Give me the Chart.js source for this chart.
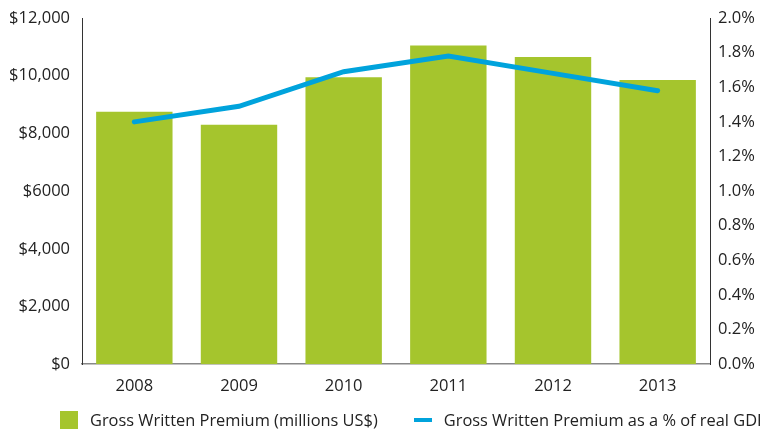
<!DOCTYPE html>
<html>
<head>
<meta charset="utf-8">
<script src="https://cdn.jsdelivr.net/npm/chart.js@4"></script>
<style>
  html, body { margin: 0; padding: 0; background: #fff; }
  #wrap { position: relative; width: 760px; height: 430px; overflow: hidden; }
  #legend { position: absolute; left: 60px; top: 408px; display: flex; white-space: nowrap;
    font-family: "Open Sans", sans-serif; font-size: 16.4px; color: #222; align-items: center; }
  .box { width: 18px; height: 18px; background: #a5c52d; margin-right: 12px; }
  .dash { width: 18px; height: 4px; background: #00a3dc; margin-right: 12px; margin-left: 36px; }
</style>
</head>
<body>
<div id="wrap">
  <canvas id="chart" width="760" height="430"></canvas>
  <div id="legend"></div>
</div>
<script>
  // 資料
  const years = ['2008', '2009', '2010', '2011', '2012', '2013'];
  const premium = [8750, 8300, 9950, 11050, 10650, 9850];
  const pctGdp = [1.40, 1.49, 1.69, 1.78, 1.68, 1.58];
  const leftTicks = ['$0', '$2,000', '$4,000', '$6000', '$8,000', '$10,000', '$12,000'];
  const premiumLabel = 'Gross Written Premium (millions US$)';
  const pctLabel = 'Gross Written Premium as a % of real GDP';

  const green = '#a5c52d';
  const blue = '#00a3dc';
  const tickFont = { family: '"Open Sans", sans-serif', size: 16.5 };

  // 圖例
  document.getElementById('legend').innerHTML =
    '<div class="box"></div><span>' + premiumLabel + '</span>' +
    '<div class="dash"></div><span>' + pctLabel + '</span>';

  const ctx = document.getElementById('chart');
  new Chart(ctx, {
    data: {
      labels: years,
      datasets: [{
        type: 'line',
        label: pctLabel,
        data: pctGdp,
        yAxisID: 'y2',
        borderColor: blue,
        borderWidth: 5,
        borderCapStyle: 'round',
        pointRadius: 0,
        tension: 0,
        order: 0
      }, {
        type: 'bar',
        label: premiumLabel,
        data: premium,
        yAxisID: 'y',
        backgroundColor: green,
        barPercentage: 0.73,
        categoryPercentage: 1,
        order: 1
      }]
    },
    options: {
      responsive: false,
      animation: false,
      layout: { padding: { top: 18, left: 0, right: 0, bottom: 30 } },
      plugins: { legend: { display: false }, tooltip: { enabled: false } },
      scales: {
        x: {
          grid: { display: false },
          border: { display: true, color: '#888', width: 1.5 },
          ticks: { color: '#222', font: tickFont, padding: 4 }
        },
        y: {
          position: 'left',
          min: 0, max: 12000,
          grid: { display: false, drawTicks: false },
          border: { display: true, color: '#333', width: 1 },
          afterFit: (s) => { s.width = 82; s.paddingTop = 0; },
          ticks: {
            stepSize: 2000,
            color: '#222', font: tickFont, padding: 12,
            callback: (v) => leftTicks[v / 2000]
          }
        },
        y2: {
          position: 'right',
          min: 0, max: 2.0,
          grid: { display: false, drawTicks: false },
          border: { display: true, color: '#333', width: 1 },
          afterFit: (s) => { s.width = 50; s.paddingTop = 0; },
          ticks: {
            stepSize: 0.2,
            color: '#222', font: tickFont, padding: 8,
            callback: (v) => v.toFixed(1) + '%'
          }
        }
      }
    }
  });
</script>
</body>
</html>
